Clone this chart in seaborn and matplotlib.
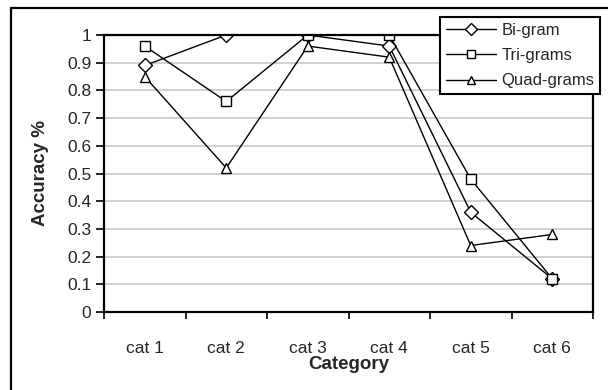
import matplotlib
matplotlib.use("Agg")
import matplotlib.pyplot as plt
from matplotlib.lines import Line2D
import numpy as np
import pandas as pd
import seaborn as sns

categories = ["cat 1", "cat 2", "cat 3", "cat 4", "cat 5", "cat 6"]
bigram = [0.89, 1.00, 1.00, 0.96, 0.36, 0.12]
trigrams = [0.96, 0.76, 1.00, 1.00, 0.48, 0.12]
quadgrams = [0.85, 0.52, 0.96, 0.92, 0.24, 0.28]
series_names = ["Bi-gram", "Tri-grams", "Quad-grams"]
y_ticks = [0, 0.1, 0.2, 0.3, 0.4, 0.5, 0.6, 0.7, 0.8, 0.9, 1]

df = pd.DataFrame({
    "Category": categories * 3,
    "Accuracy": bigram + trigrams + quadgrams,
    "Series": sum([[n] * len(categories) for n in series_names], []),
})

sns.set_theme(style="white")
plt.rcParams["font.family"] = ["Liberation Sans", "DejaVu Sans"]

fig = plt.figure(figsize=(6.08, 3.90), dpi=100)
ax = fig.add_axes([104 / 608, 1 - 312 / 390, (593 - 104) / 608, (312 - 35) / 390])

sns.lineplot(
    data=df, x="Category", y="Accuracy", hue="Series", style="Series",
    markers=["D", "s", "^"], dashes=False, palette=["black"] * 3,
    markersize=7, linewidth=1.0, markerfacecolor="white",
    markeredgecolor="black", markeredgewidth=1.0, sort=False, ax=ax,
)
for line in ax.get_lines():
    line.set_markerfacecolor("white")
    line.set_markeredgecolor("black")

ax.set_xlim(-0.5, len(categories) - 0.5)
ax.set_ylim(0, 1)
ax.set_yticks(y_ticks)
ax.set_yticklabels([f"{t:g}" for t in y_ticks], fontsize=12.5)
ax.set_xticks(range(len(categories)))
ax.set_xticklabels(categories, fontsize=12.5)
ax.set_xticks(np.arange(-0.5, len(categories), 1.0), minor=True)
ax.tick_params(axis="x", which="major", length=0, pad=21)
ax.tick_params(axis="x", which="minor", length=5, width=1.2, color="black", direction="out", bottom=True)
ax.tick_params(axis="y", length=6, width=1.2, color="black", direction="out", left=True, pad=3)

for y in y_ticks[1:-1]:
    ax.axhline(y, color="#c8c8c8", linewidth=1.2, zorder=0)

for side in ["left", "bottom", "right", "top"]:
    ax.spines[side].set_visible(True)
    ax.spines[side].set_color("black")
    ax.spines[side].set_linewidth(1.6)

ax.set_xlabel("Category", fontsize=13.5, fontweight="bold", labelpad=0)
ax.set_ylabel("Accuracy %", fontsize=13.5, fontweight="bold", labelpad=13)

handles, labels = ax.get_legend_handles_labels()
for h in handles:
    h.set_markerfacecolor("white")
    h.set_markeredgecolor("black")
    h.set_markersize(6)
ax.get_legend().remove()
leg = fig.legend(
    handles, labels, loc="upper right",
    bbox_to_anchor=(600 / 608, 1 - 17 / 390), bbox_transform=fig.transFigure,
    fontsize=12, frameon=True, fancybox=False, framealpha=1,
    edgecolor="black", handlelength=3.0, borderpad=0.35, labelspacing=0.62,
    handletextpad=0.3, borderaxespad=0,
)
leg.get_frame().set_linewidth(1.5)

# outer chart frame
fig.add_artist(Line2D([11 / 608, 11 / 608], [0, 1 - 8 / 390], transform=fig.transFigure,
                      color="black", linewidth=1.6))
fig.add_artist(Line2D([11 / 608, 1], [1 - 8 / 390, 1 - 8 / 390], transform=fig.transFigure,
                      color="black", linewidth=1.6))

fig.savefig("out.png", dpi=100, facecolor="white")
